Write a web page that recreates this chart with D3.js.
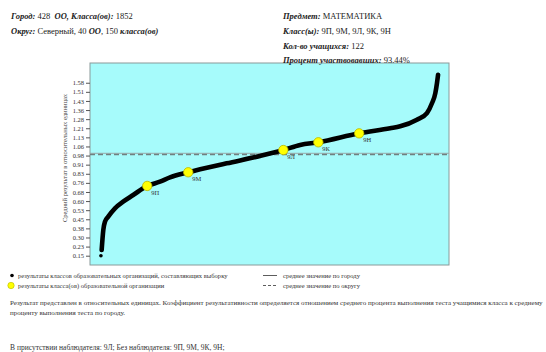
<!DOCTYPE html>
<html>
<head>
<meta charset="utf-8">
<script src="https://cdn.jsdelivr.net/npm/d3@7"></script>
<style>
  html, body { margin: 0; padding: 0; background: #fff; }
  svg { display: block; font-family: "Liberation Serif", "Times New Roman", serif; }
</style>
</head>
<body>
<svg id="chart" width="546" height="352"></svg>
<script>
// Sorted class results across the city: rank of the class and its relative score
const cityRanks  = [1, 5, 14, 23, 41, 78, 123, 178, 255, 325, 380, 480, 691, 874, 1002, 1094, 1194, 1418, 1588, 1643, 1735, 1790, 1818, 1836, 1845, 1851];
const cityValues = [0.153, 0.200, 0.366, 0.434, 0.476, 0.545, 0.600, 0.655, 0.730, 0.765, 0.801, 0.843, 0.917, 0.978, 1.027, 1.069, 1.091, 1.165, 1.207, 1.223, 1.278, 1.333, 1.416, 1.498, 1.581, 1.650];

// Classes of the school
const schoolClasses = ["9П", "9М", "9Л", "9К", "9Н"];
const schoolRanks   = [255, 480, 1002, 1194, 1418];
const schoolValues  = [0.730, 0.843, 1.027, 1.091, 1.165];

// Reference levels
const cityMean = 1.00;
const districtMean = 0.99;

// Y-axis tick labels
const yTickLabels = ["0.15","0.23","0.30","0.38","0.45","0.53","0.60","0.68","0.76","0.83","0.91","0.98","1.06","1.13","1.21","1.28","1.36","1.43","1.51","1.58"];
const yTickStart = 0.153, yTickStep = 0.0753;

const svg = d3.select("#chart");
const plot = { left: 90, right: 449, top: 63, bottom: 265 };

const x = d3.scaleLinear().domain([-59, 1911]).range([plot.left, plot.right]);
const y = d3.scaleLinear().domain([0.076, 1.747]).range([plot.bottom, plot.top]);

// Plot background
svg.append("rect")
  .attr("x", plot.left).attr("y", plot.top)
  .attr("width", plot.right - plot.left).attr("height", plot.bottom - plot.top)
  .attr("fill", "#a6fbfb").attr("stroke", "#8a9a9a").attr("stroke-width", 1);

// Header
const header = [
  { x: 11, y: 19, parts: [["Город:", true], [" 428  ", false], ["ОО, Класса(ов):", true], [" 1852", false]] },
  { x: 11, y: 34, parts: [["Округ:", true], [" Северный, 40 ", false], ["ОО", true], [", 150 ", false], ["класса(ов)", true]] },
  { x: 283, y: 19, parts: [["Предмет:", true], [" МАТЕМАТИКА", false]] },
  { x: 283, y: 34, parts: [["Класс(ы):", true], [" 9П, 9М, 9Л, 9К, 9Н", false]] },
  { x: 283, y: 49, parts: [["Кол-во учащихся:", true], [" 122", false]] },
  { x: 283, y: 62.5, parts: [["Процент участвовавших:", true], [" 93.44%", false]] }
];
header.forEach(h => {
  const t = svg.append("text").attr("x", h.x).attr("y", h.y)
    .attr("font-size", 8.5).attr("fill", "#222").attr("xml:space", "preserve");
  h.parts.forEach(([s, b]) => {
    t.append("tspan").text(s)
      .attr("font-weight", b ? "bold" : "normal")
      .attr("font-style", b ? "italic" : "normal");
  });
});

// Y axis
const tickVals = yTickLabels.map((_, i) => yTickStart + i * yTickStep);
const yAxis = d3.axisLeft(y).tickValues(tickVals).tickSize(4).tickPadding(2)
  .tickFormat((d, i) => yTickLabels[i]);
const ga = svg.append("g").attr("transform", `translate(${plot.left},0)`).call(yAxis);
ga.select(".domain").remove();
ga.selectAll(".tick line").attr("stroke", "#555");
ga.selectAll(".tick text").attr("font-size", 6.5).attr("fill", "#333")
  .attr("font-family", "'Liberation Serif', 'Times New Roman', serif");

svg.append("text")
  .attr("transform", `translate(67,158) rotate(-90)`)
  .attr("text-anchor", "middle").attr("font-size", 6.5).attr("fill", "#444")
  .text("Средний результат в относительных единицах");

// Mean lines
svg.append("line")
  .attr("x1", plot.left).attr("x2", plot.right)
  .attr("y1", y(cityMean)).attr("y2", y(cityMean))
  .attr("stroke", "#9aabab").attr("stroke-width", 1);
svg.append("line")
  .attr("x1", plot.left).attr("x2", plot.right)
  .attr("y1", y(districtMean)).attr("y2", y(districtMean))
  .attr("stroke", "#6f8080").attr("stroke-width", 1.3).attr("stroke-dasharray", "5,3");

// City results curve
const pts = cityRanks.map((r, i) => [r, cityValues[i]]);
const line = d3.line().x(d => x(d[0])).y(d => y(d[1])).curve(d3.curveMonotoneX);
svg.append("path").datum(pts.slice(1))
  .attr("d", line).attr("fill", "none")
  .attr("stroke", "#000").attr("stroke-width", 4.6)
  .attr("stroke-linecap", "round").attr("stroke-linejoin", "round");
svg.append("circle").attr("cx", x(pts[0][0])).attr("cy", y(pts[0][1]))
  .attr("r", 1.8).attr("fill", "#000");

// School classes
const sc = svg.append("g");
schoolClasses.forEach((name, i) => {
  const cx = x(schoolRanks[i]), cy = y(schoolValues[i]);
  sc.append("circle").attr("cx", cx).attr("cy", cy).attr("r", 4.7)
    .attr("fill", "#ffff00").attr("stroke", "#b8b800").attr("stroke-width", 0.8);
  sc.append("text").attr("x", cx + 4).attr("y", cy + 9)
    .attr("font-size", 6.5).attr("fill", "#333").text(name);
});

// Legend
const lg = svg.append("g").attr("font-size", 6.55).attr("fill", "#333");
lg.append("circle").attr("cx", 12).attr("cy", 275.5).attr("r", 1.8).attr("fill", "#000");
lg.append("text").attr("x", 18).attr("y", 278).text("результаты классов образовательных организаций, составляющих выборку");
lg.append("circle").attr("cx", 11).attr("cy", 285.5).attr("r", 3.2)
  .attr("fill", "#ffff00").attr("stroke", "#b8b800").attr("stroke-width", 0.6);
lg.append("text").attr("x", 18).attr("y", 288).text("результаты класса(ов) образовательной организации");
lg.append("line").attr("x1", 263).attr("x2", 277).attr("y1", 275.5).attr("y2", 275.5)
  .attr("stroke", "#333").attr("stroke-width", 0.8);
lg.append("text").attr("x", 283).attr("y", 278).text("среднее значение по городу");
lg.append("line").attr("x1", 263).attr("x2", 277).attr("y1", 285.5).attr("y2", 285.5)
  .attr("stroke", "#333").attr("stroke-width", 0.8).attr("stroke-dasharray", "3,2");
lg.append("text").attr("x", 283).attr("y", 288).text("среднее значение по округу");

// Notes
const notes = svg.append("g").attr("font-size", 7).attr("fill", "#333");
notes.append("text").attr("x", 10).attr("y", 305)
  .text("Результат представлен в относительных единицах. Коэффициент результативности определяется отношением среднего процента выполнения теста учащимися класса к среднему");
notes.append("text").attr("x", 10).attr("y", 315)
  .text("проценту выполнения теста по городу.");
notes.append("text").attr("x", 10).attr("y", 350).attr("font-size", 7.5)
  .text("В присутствии наблюдателя: 9Л; Без наблюдателя: 9П, 9М, 9К, 9Н;");
</script>
</body>
</html>
